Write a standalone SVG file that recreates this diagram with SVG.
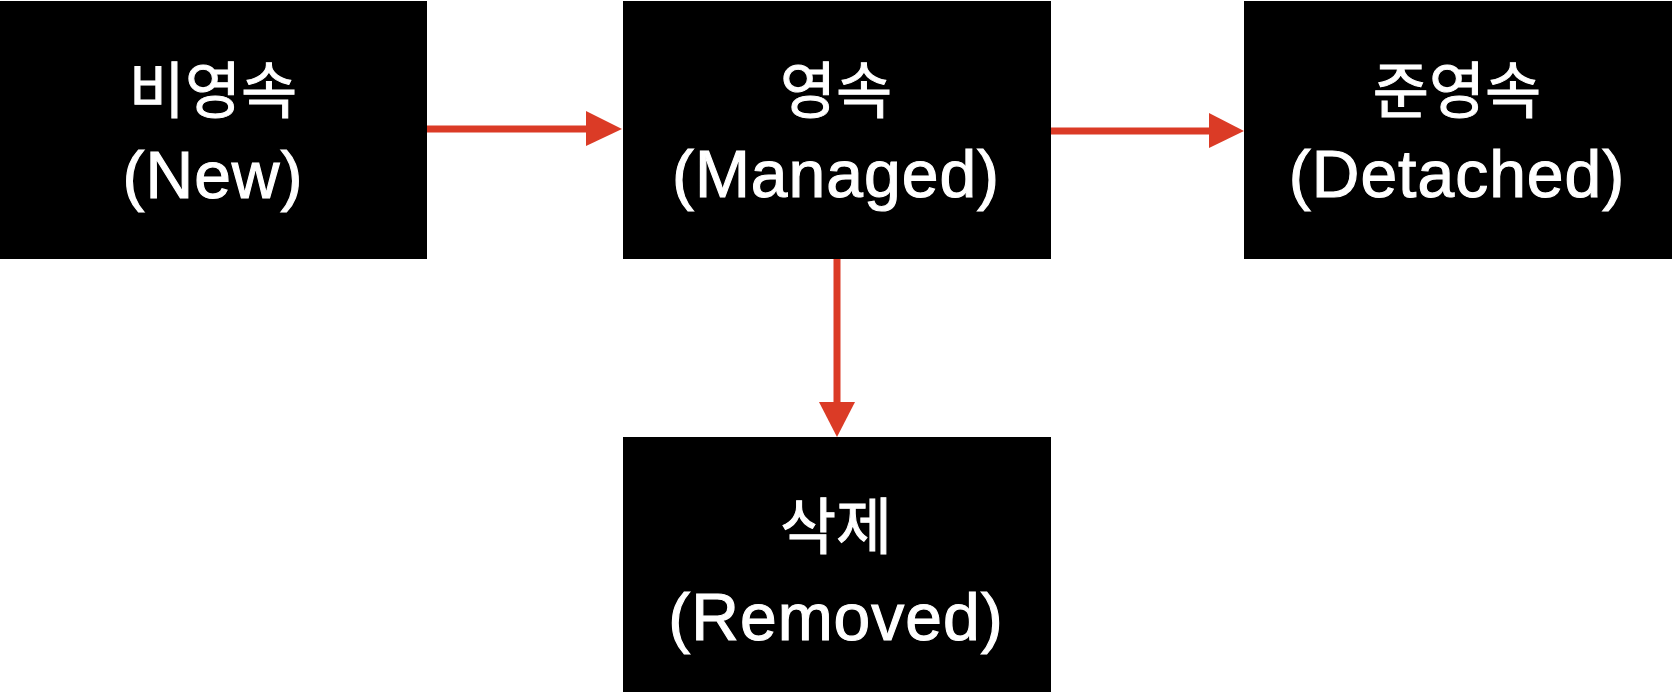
<svg xmlns="http://www.w3.org/2000/svg" width="1672" height="692" viewBox="0 0 1672 692">
<style>
.box{fill:#000;}
.ko{font-family:"Noto Sans CJK KR","Noto Sans",sans-serif;font-size:61px;fill:#fff;stroke:#fff;stroke-width:1px;text-anchor:middle;}
.en{font-family:"Liberation Sans",Arial,sans-serif;font-size:66px;fill:#fff;stroke:#fff;stroke-width:1.1px;text-anchor:middle;letter-spacing:1px;}
.conn{stroke:#db3b26;stroke-width:7;fill:none;}
.head{fill:#db3b26;}
</style>
<rect width="1672" height="692" fill="#fff"/>
<g id="node-new">
<rect class="box" x="0" y="1" width="427" height="258"/>
<text class="ko" x="213" y="113">비영속</text>
<text class="en" x="213" y="198">(New)</text>
</g>
<g id="node-managed">
<rect class="box" x="623" y="1" width="428" height="258"/>
<text class="ko" x="836" y="113">영속</text>
<text class="en" x="836" y="197">(Managed)</text>
</g>
<g id="node-detached">
<rect class="box" x="1244" y="1" width="428" height="258"/>
<text class="ko" x="1457" y="113">준영속</text>
<text class="en" x="1457" y="197">(Detached)</text>
</g>
<g id="node-removed">
<rect class="box" x="623" y="437" width="428" height="255"/>
<text class="ko" x="836" y="549">삭제</text>
<text class="en" x="836" y="640">(Removed)</text>
</g>
<g id="connectors">
<line class="conn" x1="427" y1="129" x2="588" y2="129"/>
<polygon class="head" points="586,111 622,129 586,146"/>
<line class="conn" x1="1051" y1="131" x2="1211" y2="131"/>
<polygon class="head" points="1209,113 1244,131 1209,148"/>
<line class="conn" x1="837" y1="259" x2="837" y2="404"/>
<polygon class="head" points="819,402 855,402 837,437"/>
</g>
</svg>
